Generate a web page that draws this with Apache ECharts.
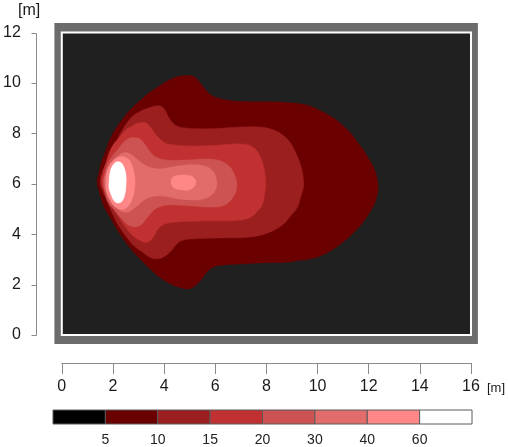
<!DOCTYPE html>
<html><head><meta charset="utf-8">
<script src="https://cdn.jsdelivr.net/npm/echarts@6/dist/echarts.min.js"></script>
<style>html,body{margin:0;padding:0;background:#fff}#c{width:508px;height:447px}</style>
</head><body><div id="c"></div>
<script>
// ---- data ----
const roomSize = [16, 12];
const yTicks = [0, 2, 4, 6, 8, 10, 12];
const levelLabels = ['5','10','15','20','30','40','60'];
const levelColors = ['#000000','#6b0000','#9b1f1f','#c13131','#cd5353','#e26c6c','#ff8787','#ffffff'];

const contour5 = [[1.38,6.07],[1.46,6.47],[1.54,6.83],[1.73,7.34],[1.93,7.86],[2.16,8.25],[2.44,8.65],[2.75,9.01],[3.10,9.33],[3.41,9.60],[3.76,9.84],[4.07,10.04],[4.38,10.20],[4.74,10.28],[5.05,10.28],[5.24,10.20],[5.44,9.96],[5.63,9.72],[5.83,9.52],[6.10,9.40],[6.61,9.29],[7.39,9.25],[8.16,9.25],[8.94,9.21],[9.53,9.13],[10.04,8.93],[10.62,8.61],[11.01,8.29],[11.28,8.02],[11.55,7.66],[11.79,7.34],[11.98,7.02],[12.18,6.67],[12.30,6.31],[12.37,5.91],[12.33,5.56],[12.22,5.20],[12.02,4.84],[11.75,4.44],[11.44,4.09],[11.05,3.73],[10.62,3.41],[10.19,3.17],[9.72,3.02],[9.14,2.94],[8.94,2.90],[7.78,2.86],[7.00,2.82],[6.33,2.78],[5.94,2.70],[5.67,2.50],[5.44,2.18],[5.20,1.94],[4.97,1.83],[4.66,1.87],[4.27,2.02],[3.99,2.18],[3.68,2.42],[3.37,2.70],[3.02,3.06],[2.71,3.41],[2.44,3.77],[2.20,4.13],[1.93,4.60],[1.66,5.08],[1.50,5.56]];
const contour10 = [[1.50,6.07],[1.58,6.47],[1.70,6.75],[1.85,7.06],[2.05,7.46],[2.24,7.90],[2.44,8.25],[2.63,8.53],[2.83,8.73],[3.10,8.89],[3.41,9.01],[3.72,9.09],[3.92,9.05],[4.07,8.85],[4.27,8.49],[4.50,8.29],[4.85,8.21],[5.71,8.18],[7.00,8.25],[7.78,8.25],[8.28,8.13],[8.63,7.94],[8.94,7.62],[9.22,7.06],[9.37,6.63],[9.45,6.15],[9.45,5.87],[9.33,5.44],[9.22,5.08],[8.94,4.72],[8.67,4.40],[8.16,4.09],[7.39,3.89],[6.22,3.85],[5.05,3.81],[4.66,3.73],[4.46,3.57],[4.27,3.33],[3.99,3.10],[3.76,3.02],[3.49,3.06],[3.10,3.33],[2.83,3.53],[2.44,4.01],[2.16,4.44],[1.97,4.84],[1.73,5.40],[1.58,5.75]];
const contour15 = [[1.56,6.07],[1.62,6.47],[1.73,6.83],[1.85,7.22],[2.01,7.54],[2.24,7.82],[2.51,8.14],[2.75,8.29],[3.02,8.41],[3.29,8.41],[3.49,8.21],[3.68,7.94],[3.88,7.74],[4.15,7.58],[5.05,7.50],[6.22,7.54],[7.00,7.58],[7.39,7.50],[7.66,7.26],[7.85,6.83],[7.93,6.47],[7.97,6.03],[7.93,5.60],[7.85,5.20],[7.66,4.92],[7.39,4.68],[7.00,4.56],[5.44,4.52],[4.15,4.44],[3.80,4.25],[3.61,3.93],[3.37,3.69],[3.10,3.73],[2.75,3.97],[2.51,4.25],[2.20,4.72],[1.93,5.20],[1.70,5.63]];
const contour20 = [[1.62,6.07],[1.70,6.47],[1.81,6.83],[2.01,7.14],[2.24,7.42],[2.47,7.70],[2.71,7.82],[2.94,7.82],[3.14,7.70],[3.29,7.50],[3.49,7.22],[3.68,7.06],[4.07,6.94],[4.85,6.94],[5.75,6.98],[6.22,6.90],[6.53,6.71],[6.72,6.43],[6.84,6.03],[6.80,5.67],[6.68,5.44],[6.45,5.20],[6.02,5.08],[5.05,5.12],[4.15,5.16],[3.72,5.04],[3.49,4.84],[3.29,4.60],[3.10,4.37],[2.86,4.29],[2.59,4.37],[2.32,4.64],[2.05,4.96],[1.81,5.28],[1.70,5.63]];
const contour30 = [[1.68,6.07],[1.73,6.43],[1.85,6.71],[2.01,6.94],[2.20,7.10],[2.40,7.22],[2.59,7.22],[2.79,7.10],[2.98,6.94],[3.22,6.75],[3.49,6.63],[3.88,6.59],[4.58,6.71],[5.28,6.75],[5.67,6.67],[5.90,6.51],[6.02,6.27],[6.06,6.03],[6.02,5.79],[5.90,5.60],[5.67,5.44],[5.28,5.36],[4.58,5.40],[3.88,5.52],[3.49,5.48],[3.22,5.36],[2.98,5.16],[2.79,5.00],[2.59,4.88],[2.40,4.88],[2.20,5.00],[2.01,5.16],[1.85,5.40],[1.73,5.67]];
const contour40left = [[1.73,6.07],[1.77,6.47],[1.89,6.75],[2.05,6.94],[2.24,7.06],[2.44,7.06],[2.63,6.94],[2.75,6.71],[2.83,6.39],[2.86,6.07],[2.83,5.71],[2.75,5.40],[2.63,5.16],[2.44,5.00],[2.24,5.00],[2.05,5.12],[1.89,5.36],[1.77,5.67]];
const contour40mid = [[4.27,6.07],[4.35,6.27],[4.54,6.33],[4.77,6.35],[5.05,6.31],[5.20,6.19],[5.24,6.03],[5.16,5.87],[4.97,5.75],[4.74,5.75],[4.50,5.79],[4.35,5.87]];
const contour60 = [[1.85,6.07],[1.89,6.47],[2.01,6.75],[2.16,6.87],[2.32,6.83],[2.44,6.63],[2.51,6.31],[2.51,5.95],[2.47,5.60],[2.36,5.32],[2.20,5.24],[2.05,5.32],[1.93,5.56],[1.85,5.83]];

const bands = [
  [contour5, 1], [contour10, 2], [contour15, 3], [contour20, 4],
  [contour30, 5], [contour40left, 6], [contour40mid, 6], [contour60, 7]
];

// ---- chart ----
const FONT = 'Liberation Sans, Arial, Helvetica, sans-serif';
const AXIS_GRAY = '#8a8a8a';
const Y_OFFSET = 26;
const chart = echarts.init(document.getElementById('c'), null, {renderer: 'canvas'});
const WALL = [0.29, 0.36, 0.27, 0.38]; // left, bottom, right, top thickness (style)

chart.setOption({
  animation: false,
  backgroundColor: '#ffffff',
  grid: [
    {left: 60, right: 37, top: 32.5, bottom: 112},
    {left: 53, right: 36, top: 410, height: 18}
  ],
  xAxis: [
    {gridIndex: 0, type: 'value', min: 0, max: roomSize[0], interval: 2, offset: 28,
     axisLine: {show: true, onZero: false, lineStyle: {color: AXIS_GRAY, width: 1}},
     axisTick: {show: true, length: 11, lineStyle: {color: AXIS_GRAY}},
     axisLabel: {margin: 16, color: '#1a1a1a', fontSize: 16, fontFamily: FONT},
     splitLine: {show: false}},
    {gridIndex: 1, type: 'value', min: 0, max: 8, interval: 1,
     axisLine: {show: false}, axisTick: {show: false}, splitLine: {show: false},
     axisLabel: {margin: 9, color: '#222', fontSize: 14, fontFamily: FONT,
       formatter: v => (v >= 1 && v <= levelLabels.length) ? levelLabels[v - 1] : ''}}
  ],
  yAxis: [
    {gridIndex: 0, type: 'value', min: 0, max: roomSize[1], interval: 2, offset: Y_OFFSET,
     axisLine: {show: false, onZero: false}, axisTick: {show: false},
     axisLabel: {margin: 15, color: '#1a1a1a', fontSize: 16, fontFamily: FONT},
     splitLine: {show: false}},
    {gridIndex: 1, type: 'value', min: 0, max: 1,
     axisLine: {show: false}, axisTick: {show: false}, axisLabel: {show: false}, splitLine: {show: false}}
  ],
  graphic: [
    {type: 'text', left: 18, top: 3, style: {text: '[m]', fontSize: 16, fontFamily: FONT, fill: '#1a1a1a'}},
    {type: 'text', left: 487, top: 382, style: {text: '[m]', fontSize: 13, fontFamily: FONT, fill: '#1a1a1a'}}
  ],
  series: [
    {
      type: 'custom', xAxisIndex: 0, yAxisIndex: 0, clip: false, z: 1,
      data: [[0, 0]],
      renderItem: (params, api) => {
        const W = roomSize[0], H = roomSize[1];
        const o0 = api.coord([-WALL[0], -WALL[1]]), o1 = api.coord([W + WALL[2], H + WALL[3]]);
        const i0 = api.coord([0, 0]), i1 = api.coord([W, H]);
        return {type: 'group', children: [
          {type: 'rect', shape: {x: o0[0], y: o1[1], width: o1[0] - o0[0], height: o0[1] - o1[1]},
           style: {fill: '#6c6c6c'}},
          {type: 'rect', shape: {x: i0[0], y: i1[1], width: i1[0] - i0[0], height: i0[1] - i1[1]},
           style: {fill: '#1f201f', stroke: '#ffffff', lineWidth: 2}}
        ]};
      }
    },
    {
      type: 'custom', xAxisIndex: 0, yAxisIndex: 0, clip: false, z: 2,
      data: bands.map((b, i) => [i, 0]),
      renderItem: (params, api) => {
        const b = bands[params.dataIndex];
        const pts = b[0].map(p => api.coord(p));
        return {type: 'polygon', shape: {points: pts, smooth: 0.4},
          style: {fill: levelColors[b[1]], stroke: levelColors[b[1]], lineWidth: 0.5}};
      }
    },
    {
      // y-axis line and ticks, positioned through the y scale
      type: 'custom', xAxisIndex: 0, yAxisIndex: 0, clip: false, z: 5, silent: true,
      data: [[0, 0]],
      renderItem: (params, api) => {
        const base = api.coord([0, 0]);
        const top = api.coord([0, yTicks[yTicks.length - 1]]);
        const x = Math.round(base[0] - Y_OFFSET) + 0.5;
        const children = [{type: 'line', shape: {x1: x, y1: Math.round(top[1]) + 0.5, x2: x, y2: Math.round(base[1]) + 0.5},
          style: {stroke: AXIS_GRAY, lineWidth: 1}}];
        yTicks.forEach(t => {
          const y = Math.round(api.coord([0, t])[1]) + 0.5;
          children.push({type: 'line', shape: {x1: x - 5, y1: y, x2: x, y2: y}, style: {stroke: AXIS_GRAY, lineWidth: 1}});
        });
        return {type: 'group', children};
      }
    },
    {
      type: 'custom', xAxisIndex: 1, yAxisIndex: 1, clip: false, z: 3,
      data: levelColors.map((c, i) => [i, 0]),
      renderItem: (params, api) => {
        const i = params.dataIndex;
        const a = api.coord([i, 0]), b = api.coord([i + 1, 1]);
        return {type: 'rect', shape: {x: a[0], y: b[1], width: b[0] - a[0], height: a[1] - b[1]},
          style: {fill: levelColors[i], stroke: '#5a5a5a', lineWidth: 1}};
      }
    }
  ]
});
</script></body></html>
